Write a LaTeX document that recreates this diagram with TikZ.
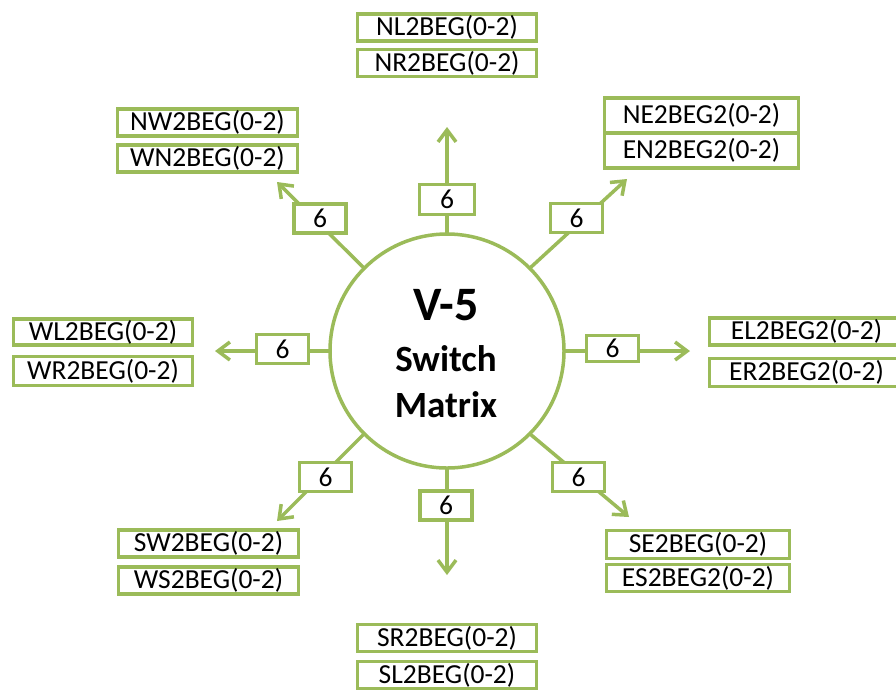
\documentclass[tikz,border=0pt]{standalone}
\usepackage{fontspec}
\setmainfont{Carlito}
\usetikzlibrary{arrows.meta}
\definecolor{grn}{HTML}{9BBB59}
\begin{document}
\begin{tikzpicture}[x=1pt,y=-1pt,
  lab/.style={draw=grn, line width=3.5pt, fill=white, inner sep=0pt, outer sep=0pt,
    font=\fontsize{27.5}{30}\selectfont, text=black},
  big/.style={lab, minimum height=27pt},
  num/.style={lab, minimum width=52pt, minimum height=29pt},
  conn/.style={draw=grn, line width=3.5pt, -{Straight Barb[length=12pt,width=18pt]}},
]
\useasboundingbox (0,0) rectangle (896,689);
% central circle
\node[circle, draw=grn, line width=3.5pt, minimum size=234pt, inner sep=0pt, outer sep=0pt] (m) at (447,351) {};
\node[font=\fontsize{48}{48}\selectfont\bfseries, anchor=base] (t1) at (446,320) {V-5};
\node[font=\fontsize{37}{40}\selectfont\bfseries, anchor=base] (t2) at (446,371) {Switch};
\node[font=\fontsize{37}{40}\selectfont\bfseries, anchor=base] (t3) at (446,417) {Matrix};
% arrow tips
\coordinate (tN) at (447,127);
\coordinate (tS) at (447,575);
\coordinate (tE) at (690,351);
\coordinate (tW) at (215,351);
\coordinate (tNE) at (627,179);
\coordinate (tNW) at (277,182);
\coordinate (tSW) at (277,521);
\coordinate (tSE) at (629,517);
% connectors
\draw[conn] (m.north) -- (tN);
\draw[conn] (m.south) -- (tS);
\draw[conn] (m.east) -- (tE);
\draw[conn] (m.west) -- (tW);
\draw[conn] (m.45) -- (tNE);
\draw[conn] (m.135) -- (tNW);
\draw[conn] (m.225) -- (tSW);
\draw[conn] (m.315) -- (tSE);
% bus width boxes
\node[num, minimum width=55pt, minimum height=30pt] (bN) at (447,199.5) {6};
\node[num] (bS) at (446,505.5) {6};
\node[num, minimum height=26pt] (bE) at (612.5,348.5) {6};
\node[num] (bW) at (282.5,349) {6};
\node[num] (bNE) at (576.5,218) {6};
\node[num] (bNW) at (320,218.5) {6};
\node[num] (bSW) at (325.5,477) {6};
\node[num] (bSE) at (578.5,477) {6};
% destination labels
\node[big, minimum width=179pt] (nl) at (447,27.5) {NL2BEG(0-2)};
\node[big, minimum width=179pt] (nr) at (447,63) {NR2BEG(0-2)};
\node[big, minimum width=180pt] (nw) at (207.5,122.5) {NW2BEG(0-2)};
\node[big, minimum width=180pt] (wn) at (207.5,158.5) {WN2BEG(0-2)};
\node[big, minimum width=194pt, minimum height=35pt] (ne) at (701.5,115.5) {NE2BEG2(0-2)};
\node[big, minimum width=194pt, minimum height=35pt] (en) at (701.5,150.5) {EN2BEG2(0-2)};
\node[big, minimum width=194pt] (el) at (806.5,331.5) {EL2BEG2(0-2)};
\node[big, minimum width=194pt, minimum height=28pt] (er) at (806.5,372.5) {ER2BEG2(0-2)};
\node[big, minimum width=179pt, minimum height=26pt] (wl) at (103,332) {WL2BEG(0-2)};
\node[big, minimum width=179pt, minimum height=29pt] (wr) at (103,371) {WR2BEG(0-2)};
\node[big, minimum width=180pt] (sw) at (208.5,543.5) {SW2BEG(0-2)};
\node[big, minimum width=180pt] (ws) at (208.5,580.5) {WS2BEG(0-2)};
\node[big, minimum width=183pt, minimum height=28pt] (se) at (698,544.5) {SE2BEG(0-2)};
\node[big, minimum width=183pt] (es) at (698,578) {ES2BEG2(0-2)};
\node[big, minimum width=179pt] (sr) at (447,638) {SR2BEG(0-2)};
\node[big, minimum width=179pt] (sl) at (447,675) {SL2BEG(0-2)};
\end{tikzpicture}
\end{document}
